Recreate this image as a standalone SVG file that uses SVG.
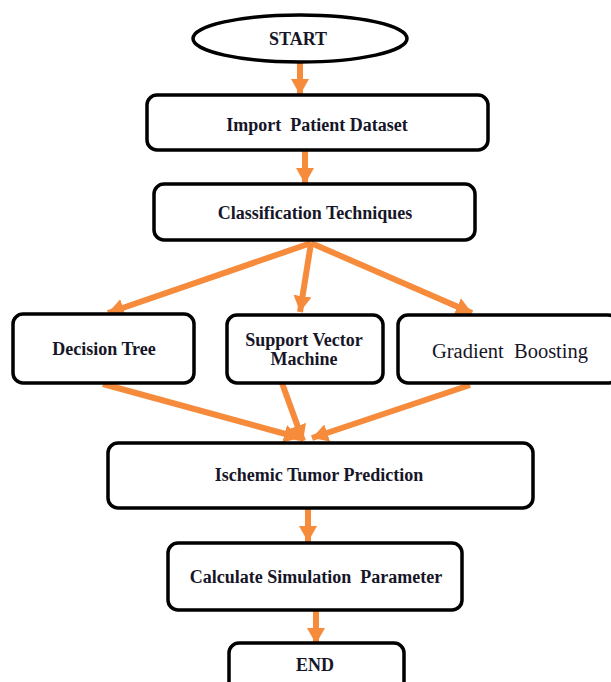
<svg xmlns="http://www.w3.org/2000/svg" width="611" height="682" viewBox="0 0 611 682">
<defs>
<style>
.box{fill:#fff;stroke:#000;stroke-width:3.5}
.t{font-family:"Liberation Serif","Times New Roman",serif;font-weight:bold;font-size:18px;fill:#161628;text-anchor:middle}
.tr{font-family:"Liberation Serif","Times New Roman",serif;font-size:20.5px;fill:#161628;text-anchor:middle}
.c{stroke:#F68B3C;stroke-width:6;fill:none;marker-end:url(#ah)}
</style>
<marker id="ah" markerUnits="userSpaceOnUse" markerWidth="18" markerHeight="20" refX="16" refY="10" orient="auto">
<path d="M0,1 L16,10 L0,19 z" fill="#F68B3C"/>
</marker>
</defs>
<rect width="611" height="682" fill="#fff"/>
<g id="connectors">
<line class="c" x1="300" y1="62" x2="300" y2="95"/>
<line class="c" x1="305" y1="151" x2="305" y2="184"/>
<line class="c" x1="311" y1="243" x2="108" y2="313"/>
<line class="c" x1="311" y1="243" x2="300" y2="312"/>
<line class="c" x1="311" y1="243" x2="472" y2="313"/>
<line class="c" x1="103" y1="384" x2="300" y2="438"/>
<line class="c" x1="282" y1="383" x2="303" y2="441"/>
<line class="c" x1="470" y1="385" x2="312" y2="438"/>
<line class="c" x1="308" y1="509" x2="308" y2="542"/>
<line class="c" x1="316" y1="611" x2="316" y2="644"/>
</g>
<g id="start">
<ellipse class="box" cx="300" cy="38.5" rx="107" ry="23.5"/>
<text class="t" x="298" y="45">START</text>
</g>
<g id="import">
<rect class="box" x="147" y="95" width="341" height="55" rx="10"/>
<text class="t" x="317" y="131" xml:space="preserve">Import  Patient Dataset</text>
</g>
<g id="classification">
<rect class="box" x="154" y="184" width="321" height="56" rx="10"/>
<text class="t" x="315" y="219">Classification Techniques</text>
</g>
<g id="decision-tree">
<rect class="box" x="13" y="314" width="181" height="69" rx="10"/>
<text class="t" x="104" y="355">Decision Tree</text>
</g>
<g id="svm">
<rect class="box" x="227" y="315" width="156" height="68" rx="10"/>
<text class="t" x="304" y="346">Support Vector</text>
<text class="t" x="304" y="365">Machine</text>
</g>
<g id="gradient-boosting">
<rect class="box" x="398" y="315" width="220" height="68" rx="10"/>
<text class="tr" x="510" y="358" xml:space="preserve">Gradient  Boosting</text>
</g>
<g id="ischemic">
<rect class="box" x="108" y="443" width="425" height="65" rx="10"/>
<text class="t" x="319" y="481">Ischemic Tumor Prediction</text>
</g>
<g id="calculate">
<rect class="box" x="168" y="543" width="294" height="67" rx="10"/>
<text class="t" x="316" y="583" xml:space="preserve">Calculate Simulation  Parameter</text>
</g>
<g id="end">
<rect class="box" x="229" y="643" width="175" height="50" rx="10"/>
<text class="t" x="315" y="671">END</text>
</g>
</svg>
